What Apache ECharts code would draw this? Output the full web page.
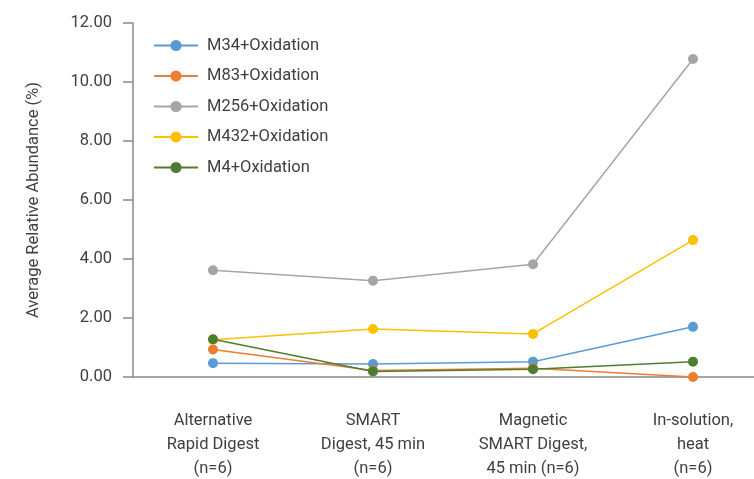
<!DOCTYPE html>
<html><head><meta charset="utf-8">
<script src="https://cdn.jsdelivr.net/npm/echarts@6/dist/echarts.min.js"></script>
<style>html,body{margin:0;padding:0;background:#fff}#c{width:754px;height:479px}</style>
</head><body><div id="c"></div>
<script>
const categories = ["Alternative\nRapid Digest\n(n=6)", "SMART\nDigest, 45 min\n(n=6)", "Magnetic\nSMART Digest,\n45 min (n=6)", "In-solution,\nheat\n(n=6)"];
const seriesNames = ["M34+Oxidation", "M83+Oxidation", "M256+Oxidation", "M432+Oxidation", "M4+Oxidation"];
const m34 = [0.47, 0.44, 0.52, 1.70];
const m83 = [0.93, 0.22, 0.30, 0.00];
const m256 = [3.62, 3.26, 3.82, 10.78];
const m432 = [1.26, 1.63, 1.46, 4.64];
const m4 = [1.28, 0.19, 0.26, 0.52];
const yTicks = [0, 2, 4, 6, 8, 10, 12];
const colors = ["#5B9BD5", "#ED7D31", "#A5A5A5", "#FFC000", "#4E7D32"];
const values = [m34, m83, m256, m432, m4];

const font = "Roboto, 'Liberation Sans', sans-serif";
const fs = 16.5;
const chart = echarts.init(document.getElementById('c'), null, {renderer: 'canvas'});
chart.setOption({
  animation: false,
  textStyle: {fontFamily: font},
  grid: {left: 133, top: 23, width: 640, bottom: 102, containLabel: false, outerBoundsMode: 'none'},
  legend: {
    orient: 'vertical', left: 148, top: 32,
    itemWidth: 44, itemHeight: 14, itemGap: 13.5,
    textStyle: {fontSize: fs, color: '#404040', fontFamily: font, padding: [0, 0, 0, 4]},
    data: seriesNames
  },
  xAxis: {
    type: 'category', data: categories, boundaryGap: true,
    axisLine: {lineStyle: {color: '#888', width: 1.5}},
    axisTick: {length: 12, lineStyle: {color: '#888', width: 1.5}},
    axisLabel: {fontSize: fs, color: '#404040', lineHeight: 24, margin: 32, interval: 0, fontFamily: font}
  },
  yAxis: {
    type: 'value', min: yTicks[0], max: yTicks[yTicks.length - 1], interval: 2,
    name: 'Average Relative Abundance (%)', nameLocation: 'middle', nameGap: 91,
    nameTextStyle: {fontSize: fs, color: '#404040', fontFamily: font},
    axisLine: {show: true, lineStyle: {color: '#888', width: 1.5}},
    axisTick: {show: true, length: 10, lineStyle: {color: '#888', width: 1.5}},
    splitLine: {show: false},
    axisLabel: {fontSize: fs, color: '#404040', margin: 21, formatter: v => v.toFixed(2), fontFamily: font}
  },
  series: seriesNames.map((n, i) => ({
    name: n, type: 'line', data: values[i],
    symbol: 'circle', symbolSize: 10,
    itemStyle: {color: colors[i]},
    lineStyle: {color: colors[i], width: 1.5}
  }))
});
</script></body></html>
